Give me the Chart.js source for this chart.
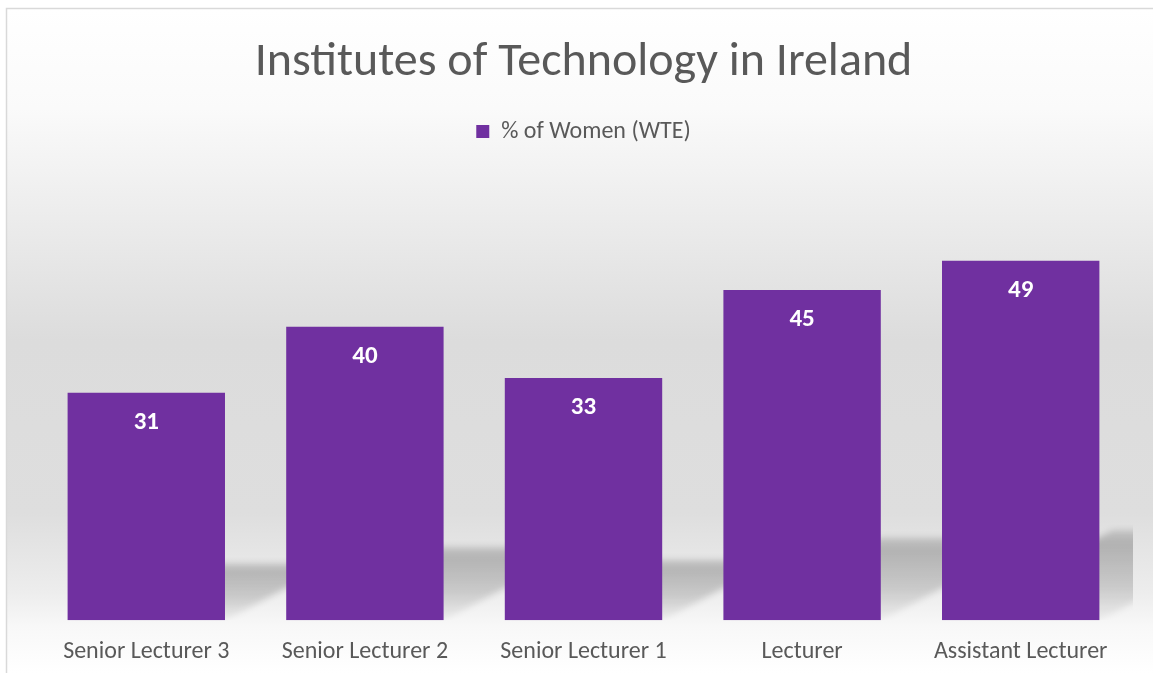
<!DOCTYPE html>
<html>
<head>
<meta charset="utf-8">
<script src="https://cdn.jsdelivr.net/npm/chart.js@4.4.1/dist/chart.umd.min.js"></script>
<style>
html,body{margin:0;padding:0;background:#fff;}
#wrap{width:1153px;height:673px;position:relative;}
</style>
</head>
<body>
<div id="wrap"><canvas id="c" width="1153" height="673"></canvas></div>
<script>
const categories = ["Senior Lecturer 3", "Senior Lecturer 2", "Senior Lecturer 1", "Lecturer", "Assistant Lecturer"];
const womenPct = [31, 40, 33, 45, 49];
const seriesName = "% of Women (WTE)";
const chartTitle = "Institutes of Technology in Ireland";

const FONT = "Carlito, Lato, 'Open Sans', sans-serif";
const PURPLE = "#7030A0";

const bgPlugin = {
  id: 'bg',
  beforeDraw(chart) {
    const ctx = chart.ctx, W = chart.width, H = chart.height;
    ctx.save();
    ctx.fillStyle = '#ffffff';
    ctx.fillRect(0, 0, W, H);
    const g = ctx.createLinearGradient(0, 9, 0, H);
    g.addColorStop(0, '#ffffff');
    g.addColorStop(0.15, '#fafafa');
    g.addColorStop(0.35, '#e9e9e9');
    g.addColorStop(0.5, '#dcdcdc');
    g.addColorStop(0.76, '#dedede');
    g.addColorStop(0.88, '#ededed');
    g.addColorStop(0.93, '#f8f8f8');
    g.addColorStop(1, '#ffffff');
    ctx.fillStyle = g;
    ctx.fillRect(7, 9, W - 7, H - 9);
    ctx.strokeStyle = '#d9d9d9';
    ctx.lineWidth = 1.5;
    ctx.beginPath();
    ctx.moveTo(6.5, H);
    ctx.lineTo(6.5, 8.5);
    ctx.lineTo(W, 8.5);
    ctx.stroke();
    ctx.restore();
  }
};

const shadowPlugin = {
  id: 'floorShadow',
  beforeDatasetsDraw(chart) {
    const ctx = chart.ctx;
    const a = chart.chartArea;
    const meta = chart.getDatasetMeta(0);
    ctx.save();
    ctx.beginPath();
    ctx.rect(a.left, a.top, a.right - a.left + 3, a.bottom - a.top);
    ctx.clip();
    ctx.filter = 'blur(3px)';
    meta.data.forEach(bar => {
      const p = bar.getProps(['x', 'y', 'base', 'width'], true);
      const h = p.base - p.y;
      const sh = h * 0.25;
      const dx = sh * 1.9;
      const l = p.x - p.width / 2, r = p.x + p.width / 2;
      const g = ctx.createLinearGradient(0, p.base - sh, 0, p.base);
      g.addColorStop(0, 'rgba(0,0,0,0.14)');
      g.addColorStop(0.15, 'rgba(0,0,0,0.22)');
      g.addColorStop(0.6, 'rgba(0,0,0,0.15)');
      g.addColorStop(1, 'rgba(0,0,0,0.03)');
      ctx.fillStyle = g;
      ctx.beginPath();
      ctx.moveTo(l, p.base);
      ctx.lineTo(r, p.base);
      ctx.lineTo(r + dx, p.base - sh);
      ctx.lineTo(l + dx, p.base - sh);
      ctx.closePath();
      ctx.fill();
    });
    ctx.restore();
  }
};

const labelPlugin = {
  id: 'valueLabels',
  afterDatasetsDraw(chart) {
    const ctx = chart.ctx;
    const meta = chart.getDatasetMeta(0);
    const data = chart.data.datasets[0].data;
    ctx.save();
    ctx.fillStyle = '#ffffff';
    ctx.font = "bold 25px " + FONT;
    ctx.textAlign = 'center';
    ctx.textBaseline = 'middle';
    meta.data.forEach((bar, i) => {
      const p = bar.getProps(['x', 'y'], true);
      ctx.fillText(String(data[i]), p.x, p.y + 30);
    });
    ctx.restore();
  }
};

new Chart(document.getElementById('c'), {
  type: 'bar',
  data: {
    labels: categories,
    datasets: [{
      label: seriesName,
      data: womenPct,
      backgroundColor: PURPLE,
      borderWidth: 0,
      categoryPercentage: 0.72,
      barPercentage: 1.0
    }]
  },
  options: {
    responsive: false,
    animation: false,
    devicePixelRatio: 1,
    layout: { padding: { left: 37, right: 23, top: 34, bottom: -10 } },
    plugins: {
      title: {
        display: true,
        text: chartTitle,
        color: '#595959',
        font: { family: FONT, size: 48, weight: 'normal' },
        padding: { top: 0, bottom: 16 }
      },
      legend: {
        display: true,
        position: 'top',
        labels: {
          color: '#595959',
          font: { family: FONT, size: 24 },
          boxWidth: 13,
          boxHeight: 13,
          padding: 12
        }
      },
      tooltip: { enabled: false }
    },
    scales: {
      x: {
        grid: { display: false, drawTicks: false },
        border: { display: false },
        ticks: {
          color: '#595959',
          font: { family: FONT, size: 24 },
          padding: 17,
          maxRotation: 0,
          autoSkip: false
        }
      },
      y: {
        display: false,
        min: 0,
        max: 63.6
      }
    }
  },
  plugins: [bgPlugin, shadowPlugin, labelPlugin]
});
</script>
</body>
</html>
